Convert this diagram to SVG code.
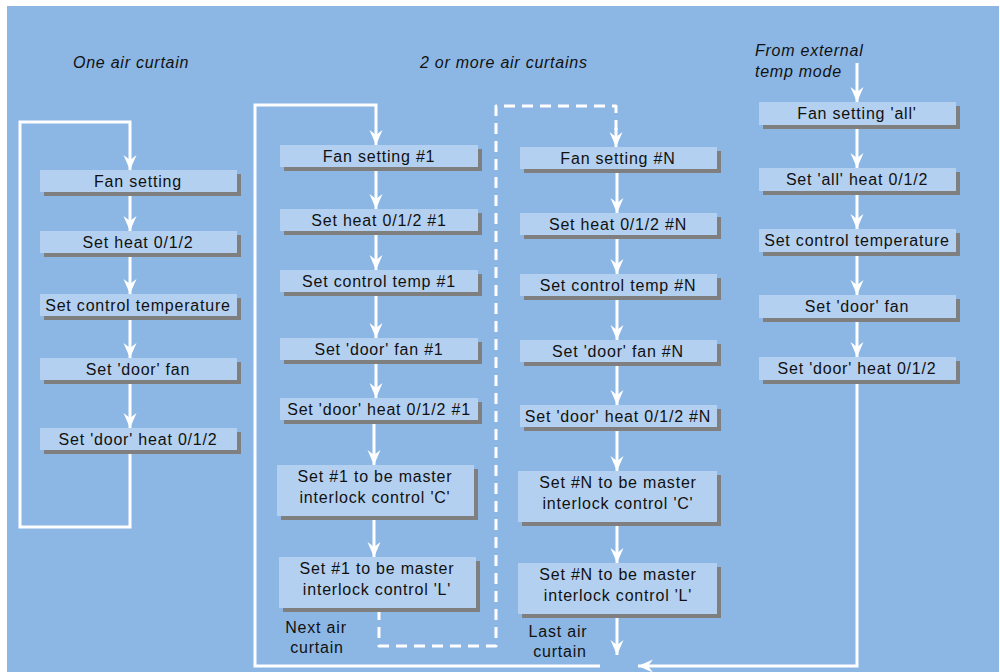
<svg xmlns="http://www.w3.org/2000/svg" width="1000" height="672" viewBox="0 0 1000 672">
<defs>
<marker id="ah" markerUnits="userSpaceOnUse" markerWidth="30" markerHeight="30" refX="0" refY="0" orient="auto" overflow="visible" viewBox="-20 -10 30 20">
<path d="M0,0 L-15,-6.5 L-10,0 L-15,6.5 Z" fill="#ffffff"/>
</marker>
</defs>
<style>
.bg{fill:#8cb7e5}
.box{fill:#b4d0f0}
.sh{fill:#7f7f7f}
.t{font-family:"Liberation Sans",Arial,sans-serif;font-size:16px;fill:#111111;text-anchor:middle;letter-spacing:0.8px}
.h{font-family:"Liberation Sans",Arial,sans-serif;font-size:16px;fill:#111111;font-style:italic;letter-spacing:0.75px}
.l{font-family:"Liberation Sans",Arial,sans-serif;font-size:16px;fill:#111111;text-anchor:middle;letter-spacing:0.8px}
.c{fill:none;stroke:#ffffff;stroke-width:3;stroke-linejoin:round}
.a{fill:none;stroke:#ffffff;stroke-width:3;marker-end:url(#ah)}
.d{fill:none;stroke:#ffffff;stroke-width:3;stroke-dasharray:11 7;stroke-linejoin:round}
</style>
<rect x="0" y="0" width="1000" height="672" fill="#ffffff"/>
<rect class="bg" x="7" y="6" width="992" height="666"/>

<text class="h" x="73" y="68">One air curtain</text>
<text class="h" x="420" y="68">2 or more air curtains</text>
<text class="h" x="755" y="56">From external</text>
<text class="h" x="755" y="77">temp mode</text>

<g id="connectors">
<path class="a" d="M130,450 V527 H20 V122 H130 V170"/>
<path class="a" d="M130,192 V231"/>
<path class="a" d="M130,253 V294"/>
<path class="a" d="M130,316 V358"/>
<path class="a" d="M130,380 V428"/>

<path class="a" d="M600,666 H255 V105 H376 V145"/>
<path class="a" d="M376,167 V209"/>
<path class="a" d="M376,232 V270"/>
<path class="a" d="M376,292 V338"/>
<path class="a" d="M376,360 V398"/>
<path class="a" d="M374,420 V465"/>
<path class="a" d="M374,516 V557"/>
<path class="d" d="M379,609 V646 H496 V106 H616 V130"/>
<path class="a" d="M616,128 V147"/>

<path class="a" d="M617,170 V213"/>
<path class="a" d="M617,236 V274"/>
<path class="a" d="M617,296 V340"/>
<path class="a" d="M617,362 V405"/>
<path class="a" d="M617,428 V471"/>
<path class="a" d="M617,522 V563"/>
<path class="a" d="M617,614 V655"/>

<path class="a" d="M857,63 V102"/>
<path class="a" d="M857,125 V168"/>
<path class="a" d="M857,191 V229"/>
<path class="a" d="M857,252 V295"/>
<path class="a" d="M857,318 V357"/>
<path class="a" d="M857,380 V666 H638"/>
</g>

<g id="n1a"><rect class="sh" x="44" y="174" width="197" height="22"/><rect class="box" x="40" y="170" width="197" height="22"/><text class="t" x="138" y="187">Fan setting</text></g>
<g id="n1b"><rect class="sh" x="44" y="235" width="197" height="22"/><rect class="box" x="40" y="231" width="197" height="22"/><text class="t" x="138" y="248">Set heat 0/1/2</text></g>
<g id="n1c"><rect class="sh" x="44" y="298" width="197" height="22"/><rect class="box" x="40" y="294" width="197" height="22"/><text class="t" x="138" y="311">Set control temperature</text></g>
<g id="n1d"><rect class="sh" x="44" y="362" width="197" height="22"/><rect class="box" x="40" y="358" width="197" height="22"/><text class="t" x="138" y="375">Set 'door' fan</text></g>
<g id="n1e"><rect class="sh" x="44" y="432" width="197" height="22"/><rect class="box" x="40" y="428" width="197" height="22"/><text class="t" x="138" y="445">Set 'door' heat 0/1/2</text></g>

<g id="n2a"><rect class="sh" x="284" y="149" width="198" height="22"/><rect class="box" x="280" y="145" width="198" height="22"/><text class="t" x="379" y="162">Fan setting #1</text></g>
<g id="n2b"><rect class="sh" x="284" y="213" width="198" height="22"/><rect class="box" x="280" y="209" width="198" height="22"/><text class="t" x="379" y="226">Set heat 0/1/2 #1</text></g>
<g id="n2c"><rect class="sh" x="284" y="274" width="198" height="22"/><rect class="box" x="280" y="270" width="198" height="22"/><text class="t" x="379" y="287">Set control  temp #1</text></g>
<g id="n2d"><rect class="sh" x="284" y="342" width="198" height="22"/><rect class="box" x="280" y="338" width="198" height="22"/><text class="t" x="379" y="355">Set 'door' fan #1</text></g>
<g id="n2e"><rect class="sh" x="284" y="402" width="198" height="22"/><rect class="box" x="280" y="398" width="198" height="22"/><text class="t" x="379" y="415">Set 'door' heat 0/1/2 #1</text></g>
<g id="n2f"><rect class="sh" x="281" y="469" width="197" height="51"/><rect class="box" x="277" y="465" width="197" height="51"/><text class="t" x="375" y="482">Set #1 to be master</text><text class="t" x="375" y="503">interlock control 'C'</text></g>
<g id="n2g"><rect class="sh" x="283" y="561" width="197" height="51"/><rect class="box" x="279" y="557" width="197" height="51"/><text class="t" x="377" y="574">Set #1 to be master</text><text class="t" x="377" y="595">interlock control 'L'</text></g>

<g id="n3a"><rect class="sh" x="524" y="151" width="197" height="22"/><rect class="box" x="520" y="147" width="197" height="22"/><text class="t" x="618" y="164">Fan setting #N</text></g>
<g id="n3b"><rect class="sh" x="524" y="217" width="197" height="22"/><rect class="box" x="520" y="213" width="197" height="22"/><text class="t" x="618" y="230">Set heat 0/1/2 #N</text></g>
<g id="n3c"><rect class="sh" x="524" y="278" width="197" height="22"/><rect class="box" x="520" y="274" width="197" height="22"/><text class="t" x="618" y="291">Set control temp #N</text></g>
<g id="n3d"><rect class="sh" x="524" y="344" width="197" height="22"/><rect class="box" x="520" y="340" width="197" height="22"/><text class="t" x="618" y="357">Set 'door' fan #N</text></g>
<g id="n3e"><rect class="sh" x="524" y="409" width="197" height="22"/><rect class="box" x="520" y="405" width="197" height="22"/><text class="t" x="618" y="422">Set 'door' heat 0/1/2 #N</text></g>
<g id="n3f"><rect class="sh" x="522" y="475" width="199" height="51"/><rect class="box" x="518" y="471" width="199" height="51"/><text class="t" x="618" y="488">Set #N to be master</text><text class="t" x="618" y="509">interlock control 'C'</text></g>
<g id="n3g"><rect class="sh" x="522" y="567" width="199" height="51"/><rect class="box" x="518" y="563" width="199" height="51"/><text class="t" x="618" y="580">Set #N to be master</text><text class="t" x="618" y="601">interlock control 'L'</text></g>

<g id="n4a"><rect class="sh" x="763" y="106" width="197" height="23"/><rect class="box" x="759" y="102" width="197" height="23"/><text class="t" x="857" y="119">Fan setting 'all'</text></g>
<g id="n4b"><rect class="sh" x="763" y="172" width="197" height="23"/><rect class="box" x="759" y="168" width="197" height="23"/><text class="t" x="857" y="185">Set 'all' heat 0/1/2</text></g>
<g id="n4c"><rect class="sh" x="763" y="233" width="197" height="23"/><rect class="box" x="759" y="229" width="197" height="23"/><text class="t" x="857" y="246">Set control temperature</text></g>
<g id="n4d"><rect class="sh" x="763" y="299" width="197" height="23"/><rect class="box" x="759" y="295" width="197" height="23"/><text class="t" x="857" y="312">Set 'door' fan</text></g>
<g id="n4e"><rect class="sh" x="763" y="361" width="197" height="23"/><rect class="box" x="759" y="357" width="197" height="23"/><text class="t" x="857" y="374">Set 'door' heat 0/1/2</text></g>

<text class="l" x="316" y="633">Next air</text>
<text class="l" x="317" y="653">curtain</text>
<text class="l" x="558" y="637">Last air</text>
<text class="l" x="560" y="657">curtain</text>
</svg>
